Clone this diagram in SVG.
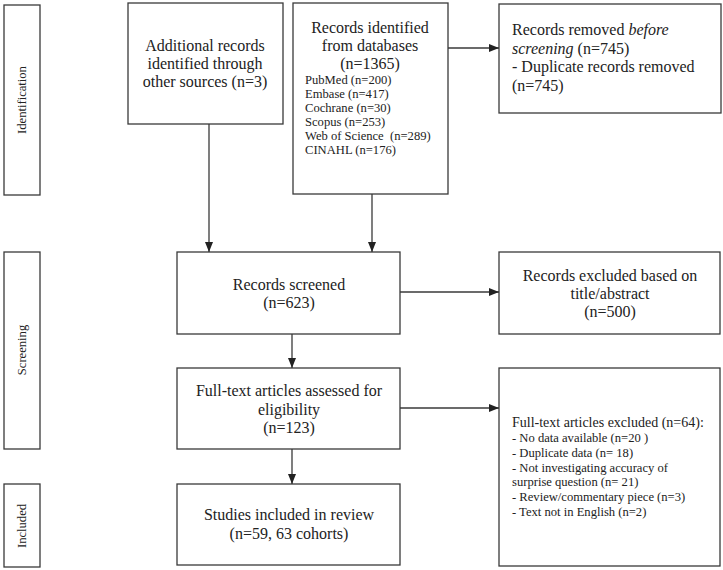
<svg xmlns="http://www.w3.org/2000/svg" width="723" height="570" viewBox="0 0 723 570">
<style>
rect.box{fill:#fff;stroke:#3a3a3a;stroke-width:1.3}
line.c{stroke:#3a3a3a;stroke-width:1.3}
text{font-family:"Liberation Serif","Times New Roman",serif;fill:#222;white-space:pre}
.t{font-size:16px}
.s{font-size:12.6px}
.m{font-size:14px}
.mid{text-anchor:middle}
</style>
<defs>
<marker id="ah" markerUnits="userSpaceOnUse" markerWidth="10" markerHeight="10" viewBox="0 0 10 10" refX="10" refY="5" orient="auto">
<path d="M0,1 L10,5 L0,9 Z" fill="#222"/>
</marker>
</defs>
<rect width="723" height="570" fill="#fff"/>
<g id="stage-identification">
<rect class="box" x="4" y="5" width="36" height="190"/>
<text class="s mid" transform="translate(26,100) rotate(-90)">Identification</text>
</g>
<g id="stage-screening">
<rect class="box" x="4" y="252" width="36" height="197"/>
<text class="s mid" transform="translate(26,350) rotate(-90)">Screening</text>
</g>
<g id="stage-included">
<rect class="box" x="4" y="484" width="36" height="83"/>
<text class="s mid" transform="translate(26,526) rotate(-90)">Included</text>
</g>
<g id="additional">
<rect class="box" x="128" y="3" width="155" height="121"/>
<text class="t mid" x="205" y="51">Additional records</text>
<text class="t mid" x="205" y="69">identified through</text>
<text class="t mid" x="205" y="87">other sources (n=3)</text>
</g>
<g id="identified">
<rect class="box" x="293" y="3" width="155" height="191"/>
<text class="t mid" x="370" y="32.5">Records identified</text>
<text class="t mid" x="370" y="50.8">from databases</text>
<text class="t mid" x="370" y="69">(n=1365)</text>
<text class="s" x="305" y="83.5">PubMed (n=200)</text>
<text class="s" x="305" y="97.6">Embase (n=417)</text>
<text class="s" x="305" y="111.7">Cochrane (n=30)</text>
<text class="s" x="305" y="125.8">Scopus (n=253)</text>
<text class="s" x="305" y="139.9">Web of Science  (n=289)</text>
<text class="s" x="305" y="154">CINAHL (n=176)</text>
</g>
<g id="removed">
<rect class="box" x="499" y="4" width="222" height="109"/>
<text class="t" x="512" y="35">Records removed <tspan font-style="italic">before</tspan></text>
<text class="t" x="512" y="53.5"><tspan font-style="italic">screening</tspan> (n=745)</text>
<text class="t" x="512" y="72">- Duplicate records removed</text>
<text class="t" x="512" y="90.5">(n=745)</text>
</g>
<g id="screened">
<rect class="box" x="177" y="252" width="223" height="82"/>
<text class="t mid" x="289" y="290">Records screened</text>
<text class="t mid" x="289" y="308">(n=623)</text>
</g>
<g id="excluded">
<rect class="box" x="499" y="252" width="221" height="82"/>
<text class="t mid" x="610" y="281">Records excluded based on</text>
<text class="t mid" x="610" y="299">title/abstract</text>
<text class="t mid" x="610" y="317">(n=500)</text>
</g>
<g id="fulltext">
<rect class="box" x="177" y="368" width="223" height="81"/>
<text class="t mid" x="289" y="396">Full-text articles assessed for</text>
<text class="t mid" x="289" y="414.5">eligibility</text>
<text class="t mid" x="289" y="433">(n=123)</text>
</g>
<g id="fulltext-excluded">
<rect class="box" x="499" y="368" width="221" height="198"/>
<text class="m" x="512" y="427.3">Full-text articles excluded (n=64):</text>
<text class="s" x="512" y="442">- No data available (n=20 )</text>
<text class="s" x="512" y="456.8">- Duplicate data (n= 18)</text>
<text class="s" x="512" y="471.6">- Not investigating accuracy of</text>
<text class="s" x="512" y="486.4">surprise question (n= 21)</text>
<text class="s" x="512" y="501.2">- Review/commentary piece (n=3)</text>
<text class="s" x="512" y="516">- Text not in English (n=2)</text>
</g>
<g id="included">
<rect class="box" x="177" y="484" width="223" height="81"/>
<text class="t mid" x="289" y="520">Studies included in review</text>
<text class="t mid" x="289" y="539">(n=59, 63 cohorts)</text>
</g>
<g id="connectors">
<line class="c" x1="209" y1="124" x2="209" y2="252" marker-end="url(#ah)"/>
<line class="c" x1="372" y1="194" x2="372" y2="252" marker-end="url(#ah)"/>
<line class="c" x1="448" y1="48" x2="499" y2="48" marker-end="url(#ah)"/>
<line class="c" x1="400" y1="292" x2="499" y2="292" marker-end="url(#ah)"/>
<line class="c" x1="292" y1="334" x2="292" y2="368" marker-end="url(#ah)"/>
<line class="c" x1="400" y1="408" x2="499" y2="408" marker-end="url(#ah)"/>
<line class="c" x1="292" y1="449" x2="292" y2="484" marker-end="url(#ah)"/>
</g>
</svg>
